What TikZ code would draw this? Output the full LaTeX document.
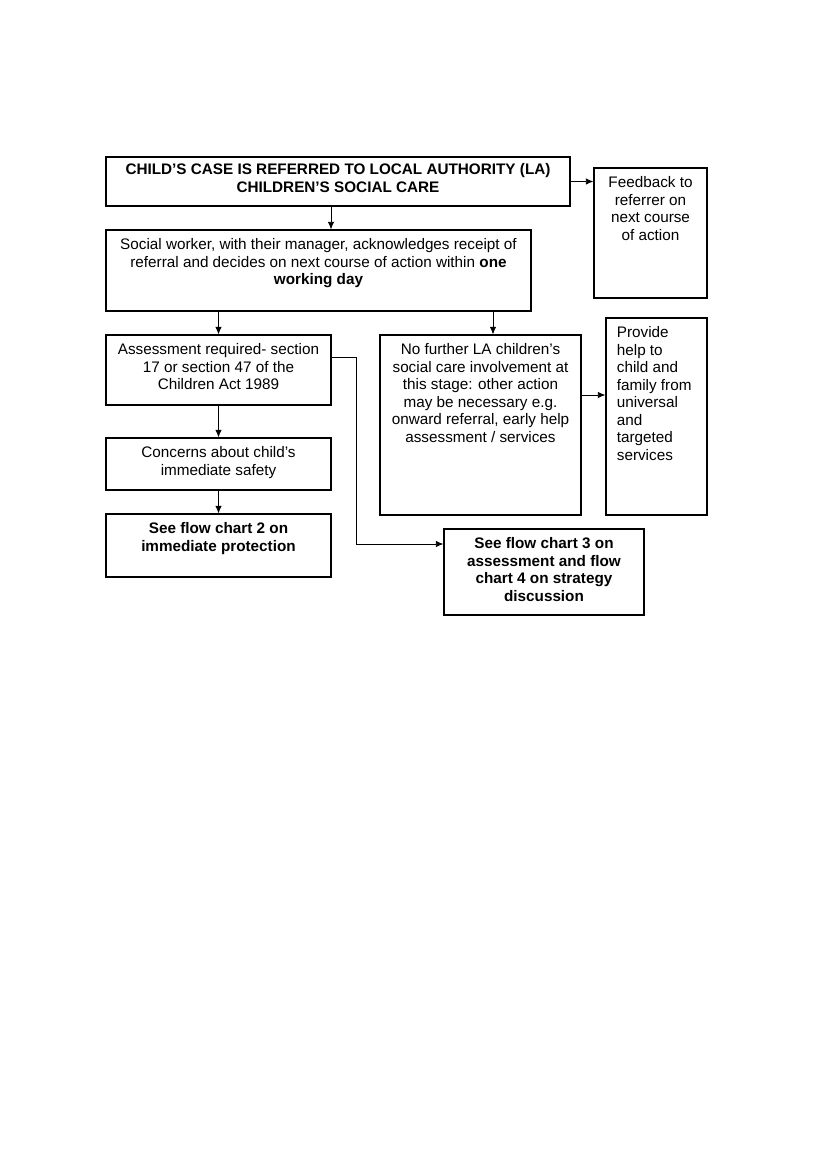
\documentclass[tikz,border=0pt]{standalone}
\usepackage{fontspec}
\setmainfont{Liberation Sans}
\usetikzlibrary{arrows.meta, positioning, fit}

\begin{document}
\begin{tikzpicture}[x=0.72pt, y=-0.72pt, >={Latex[length=5.5pt,width=4.6pt]},
    box/.style={draw, line width=0.75pt, inner sep=0pt},
    txt/.style={font=\fontsize{11}{12.6}\selectfont, align=center, inner sep=0pt},
    btxt/.style={txt, font=\fontsize{11}{12.6}\selectfont\bfseries},
    link/.style={->, line width=0.65pt}]
        \useasboundingbox (0,0) rectangle (827,1169);
        % boxes
        \node[box, fit={(106,157) (570,206)}] (refer) {};
        \node[box, fit={(594,168) (707,298)}] (fb) {};
        \node[box, fit={(106,230) (531,311)}] (sw) {};
        \node[box, fit={(106,335) (331,405)}] (assess) {};
        \node[box, fit={(380,335) (581,515)}] (nla) {};
        \node[box, fit={(606,318) (707,515)}] (help) {};
        \node[box, fit={(106,438) (331,490)}] (concern) {};
        \node[box, fit={(106,514) (331,577)}] (fc2) {};
        \node[box, fit={(444,529) (644,615)}] (fc3) {};
        % texts
        \node[btxt, below=5pt of refer.north] (refertxt) {CHILD’S CASE IS REFERRED TO LOCAL AUTHORITY (LA)\\CHILDREN’S SOCIAL CARE};
        \node[txt, below=6.5pt of fb.north] (fbtxt) {Feedback to\\referrer on\\next course\\of action};
        \node[txt, below=6.5pt of sw.north] (swtxt) {Social worker, with their manager, acknowledges receipt of\\referral and decides on next course of action within \textbf{one}\\\textbf{working day}};
        \node[txt, below=6.5pt of assess.north] (assesstxt) {Assessment required- section\\17 or section 47 of the\\Children Act 1989};
        \node[txt, below=6.5pt of nla.north] (nlatxt) {No further LA children’s\\social care involvement at\\this stage: other action\\may be necessary e.g.\\onward referral, early help\\assessment / services};
        \node[txt, align=left, below right=6.5pt and 8pt of help.north west] (helptxt) {Provide\\help to\\child and\\family from\\universal\\and\\targeted\\services};
        \node[txt, below=6.5pt of concern.north] (concerntxt) {Concerns about child’s\\immediate safety};
        \node[btxt, below=6.5pt of fc2.north] (fc2txt) {See flow chart 2 on\\immediate protection};
        \node[btxt, below=6.5pt of fc3.north] (fc3txt) {See flow chart 3 on\\assessment and flow\\chart 4 on strategy\\discussion};
        % connectors
        \draw[link] (refer.east) -- (refer.east -| fb.west);
        \draw[link] (331,0 |- refer.south) -- (331,0 |- sw.north);
        \draw[link] (assess.north |- sw.south) -- (assess.north);
        \draw[link] (493,0 |- sw.south) -- (493,0 |- nla.north);
        \draw[link] (nla.east |- 0,395) -- (help.west |- 0,395);
        \draw[link] (assess.south) -- (concern.north);
        \draw[link] (concern.south) -- (fc2.north);
        \draw[link] (assess.east |- 0,357) -- (356,357) |- (fc3.west |- 0,544);
    \end{tikzpicture}
\end{document}
